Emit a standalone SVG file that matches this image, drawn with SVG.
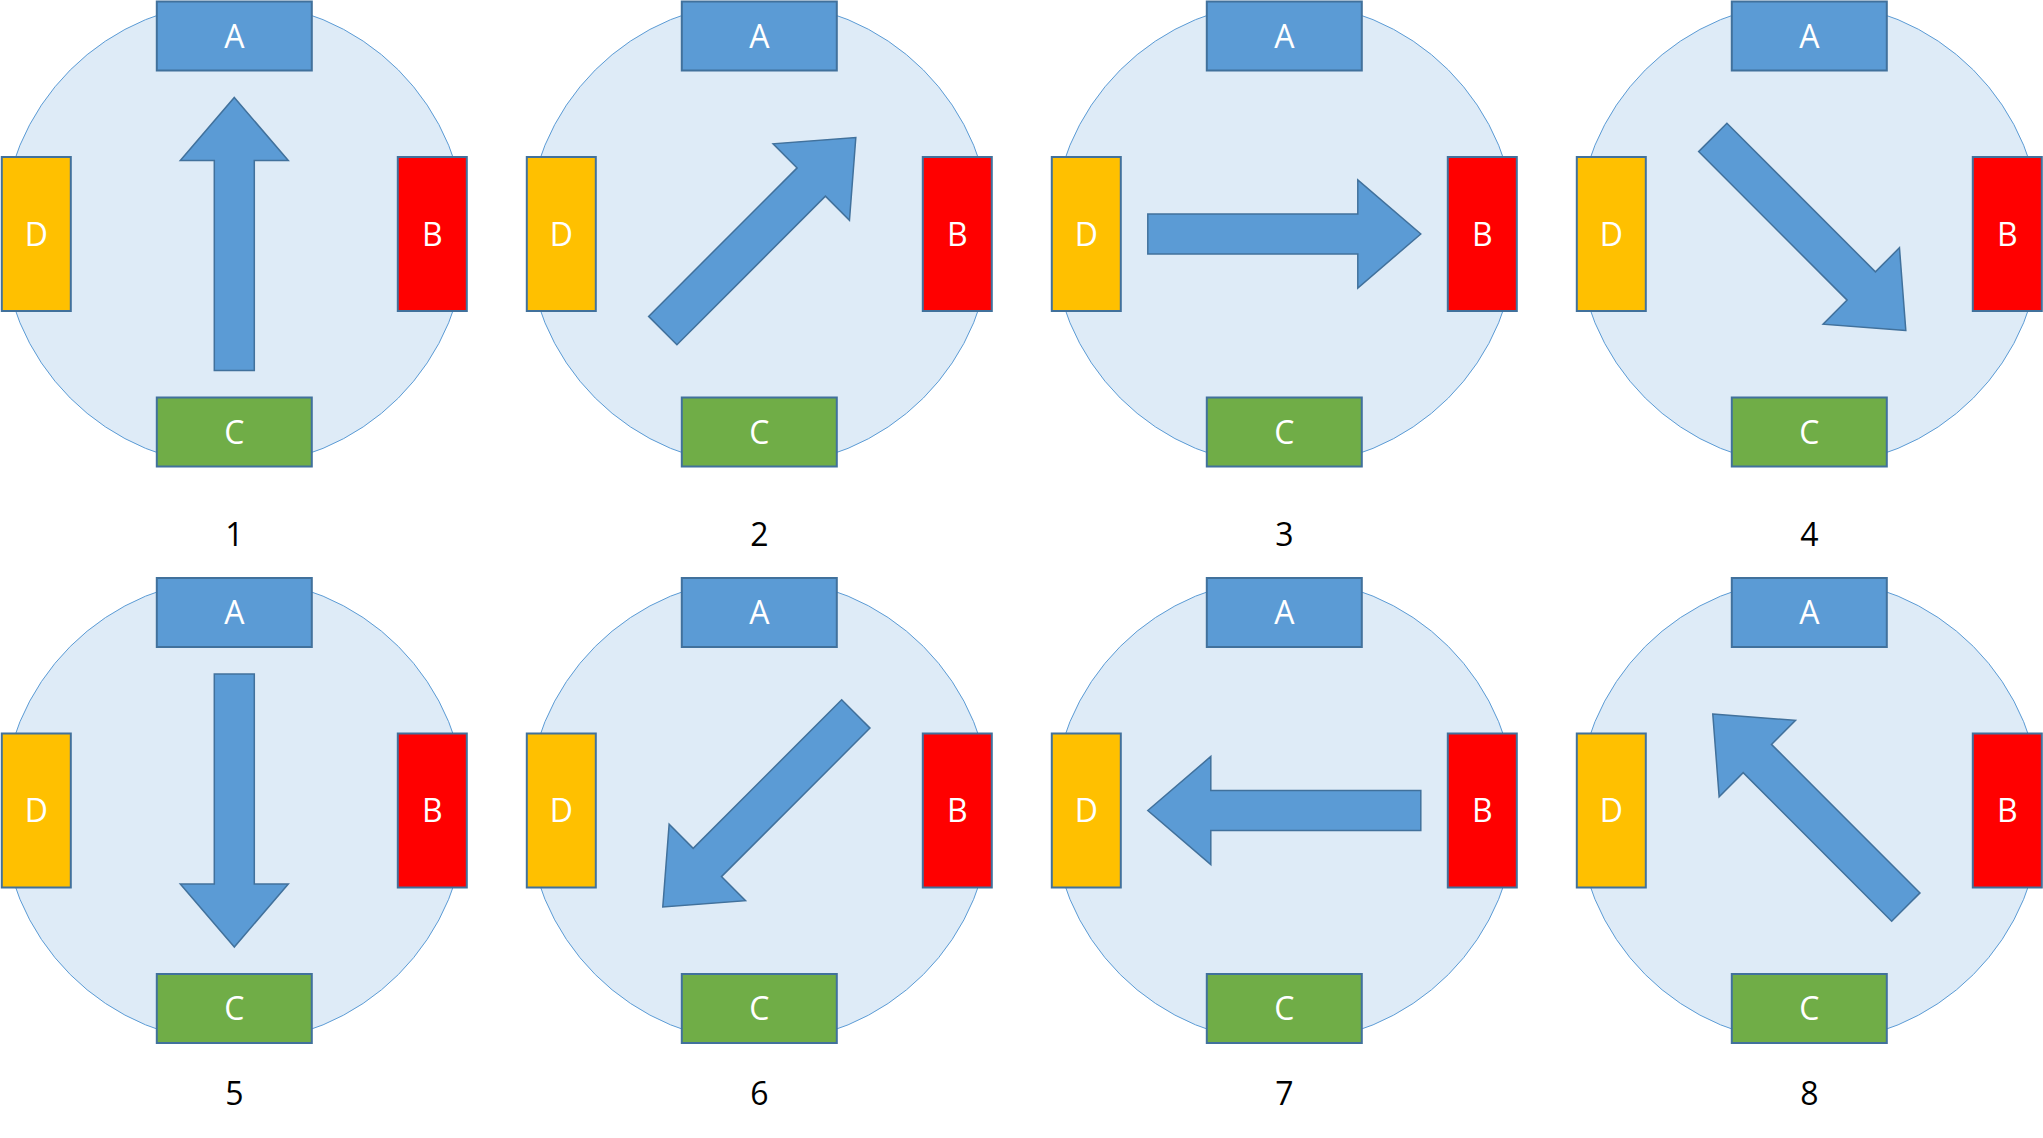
<svg xmlns="http://www.w3.org/2000/svg" xmlns:xlink="http://www.w3.org/1999/xlink" width="2043" height="1138" viewBox="0 0 2043 1138">
<style>
.disc{fill:#DEEBF7;stroke:#5B9BD5;stroke-width:1}
.box{stroke:#41719C;stroke-width:2}
.a{fill:#5B9BD5}.b{fill:#FF0000}.c{fill:#70AD47}.d{fill:#FFC000}
.lt{font-family:"Open Sans","Liberation Sans",sans-serif;font-size:32px;fill:#FFFFFF;text-anchor:middle}
.num{font-family:"Open Sans","Liberation Sans",sans-serif;font-size:32px;fill:#000000;text-anchor:middle}
.arr{fill:#5B9BD5;stroke:#41719C;stroke-width:1.5;stroke-linejoin:miter}
</style>
<defs>
<polygon id="arrow" class="arr" points="0,-136.5 54,-73.5 20,-73.5 20,136.5 -20,136.5 -20,-73.5 -54,-73.5"/>
<g id="stator">
<circle class="disc" cx="0" cy="0" r="232"/>
<rect class="box a" x="-77.5" y="-232.5" width="155" height="69"/>
<text class="lt" x="0" y="-186.5">A</text>
<rect class="box b" x="163.5" y="-77" width="69" height="154"/>
<text class="lt" x="198" y="11.5">B</text>
<rect class="box c" x="-77.5" y="163.5" width="155" height="69"/>
<text class="lt" x="0" y="209.5">C</text>
<rect class="box d" x="-232.5" y="-77" width="69" height="154"/>
<text class="lt" x="-198" y="11.5">D</text>
</g>
</defs>
<g id="panel1" transform="translate(234.3,234)"><use xlink:href="#stator"/><use xlink:href="#arrow" transform="rotate(0)"/></g>
<g id="panel2" transform="translate(759.3,234)"><use xlink:href="#stator"/><use xlink:href="#arrow" transform="rotate(45)"/></g>
<g id="panel3" transform="translate(1284.3,234)"><use xlink:href="#stator"/><use xlink:href="#arrow" transform="rotate(90)"/></g>
<g id="panel4" transform="translate(1809.3,234)"><use xlink:href="#stator"/><use xlink:href="#arrow" transform="rotate(135)"/></g>
<g id="panel5" transform="translate(234.3,810.5)"><use xlink:href="#stator"/><use xlink:href="#arrow" transform="rotate(180)"/></g>
<g id="panel6" transform="translate(759.3,810.5)"><use xlink:href="#stator"/><use xlink:href="#arrow" transform="rotate(225)"/></g>
<g id="panel7" transform="translate(1284.3,810.5)"><use xlink:href="#stator"/><use xlink:href="#arrow" transform="rotate(270)"/></g>
<g id="panel8" transform="translate(1809.3,810.5)"><use xlink:href="#stator"/><use xlink:href="#arrow" transform="rotate(315)"/></g>
<g id="labels">
<text class="num" x="234.3" y="545.5">1</text>
<text class="num" x="759.3" y="545.5">2</text>
<text class="num" x="1284.3" y="545.5">3</text>
<text class="num" x="1809.3" y="545.5">4</text>
<text class="num" x="234.3" y="1104.5">5</text>
<text class="num" x="759.3" y="1104.5">6</text>
<text class="num" x="1284.3" y="1104.5">7</text>
<text class="num" x="1809.3" y="1104.5">8</text>
</g>
</svg>
